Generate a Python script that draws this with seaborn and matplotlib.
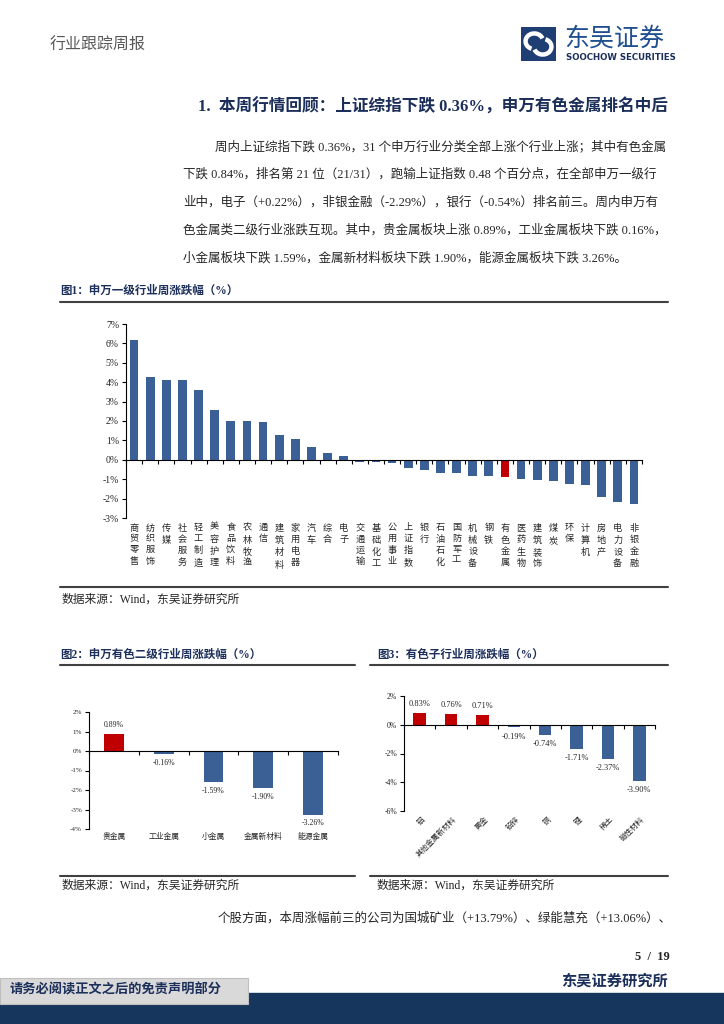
import numpy as np
import pandas as pd
import seaborn as sns
import matplotlib
matplotlib.use("Agg")
import matplotlib.pyplot as plt
import matplotlib.transforms as mtrans
from matplotlib.patches import Rectangle, Arc

sns.set_theme(style="white")
plt.rcParams['font.family'] = ['Liberation Serif', 'Noto Sans CJK SC']
plt.rcParams['axes.unicode_minus'] = False

NAVY = '#1c2f5a'
BLUE = '#3a6096'
RED = '#c00000'

# fig 1: shenwan level-1 industries weekly change (%)
ind_names = ['商贸零售', '纺织服饰', '传媒', '社会服务', '轻工制造', '美容护理', '食品饮料',
             '农林牧渔', '通信', '建筑材料', '家用电器', '汽车', '综合', '电子', '交通运输',
             '基础化工', '公用事业', '上证指数', '银行', '石油石化', '国防军工', '机械设备',
             '钢铁', '有色金属', '医药生物', '建筑装饰', '煤炭', '环保', '计算机', '房地产',
             '电力设备', '非银金融']
ind_chg = [6.17, 4.25, 4.12, 4.12, 3.62, 2.59, 2.02, 2.02, 1.94, 1.27, 1.08, 0.67, 0.34,
           0.22, -0.09, -0.12, -0.19, -0.43, -0.54, -0.70, -0.70, -0.84, -0.84, -0.89,
           -0.99, -1.03, -1.10, -1.25, -1.30, -1.92, -2.20, -2.29]
ind_hl = ['有色金属']

# fig 2: non-ferrous level-2
sub_names = ['贵金属', '工业金属', '小金属', '金属新材料', '能源金属']
sub_chg = [0.89, -0.16, -1.59, -1.90, -3.26]

# fig 3: non-ferrous sub sectors
sec_names = ['铝', '其他金属新材料', '黄金', '铅锌', '铜', '锂', '稀土', '磁性材料']
sec_chg = [0.83, 0.76, 0.71, -0.19, -0.74, -1.71, -2.37, -3.90]

W, H = 724, 1024
fig = plt.figure(figsize=(W / 100, H / 100), dpi=100)


def rect(x0, y0, x1, y1):
    return [x0 / W, 1 - y1 / H, (x1 - x0) / W, (y1 - y0) / H]


def txt(x, y, s, **kw):
    kw.setdefault('va', 'center')
    fig.text(x / W, 1 - y / H, s, **kw)


def hline(x0, x1, y, lw=1.5, color='#404040'):
    fig.add_artist(plt.Line2D([x0 / W, x1 / W], [1 - y / H, 1 - y / H], color=color, lw=lw))


def bar_chart(ax, names, vals, colors, width, ylim, yticks, tick_fs):
    df = pd.DataFrame({'name': names, 'chg': vals})
    pal = dict(zip(names, colors))
    sns.barplot(data=df, x='name', y='chg', hue='name', palette=pal, width=width,
                saturation=1, legend=False, ax=ax, edgecolor='none')
    n = len(names)
    ax.set_xlim(-0.5, n - 0.5)
    ax.set_ylim(*ylim)
    ax.set_xlabel('')
    ax.set_ylabel('')
    for s in ['top', 'right']:
        ax.spines[s].set_visible(False)
    for s in ['left', 'bottom']:
        ax.spines[s].set_color('black')
        ax.spines[s].set_linewidth(0.8)
    ax.spines['bottom'].set_position(('data', 0))
    ax.set_xticks([])
    ax.set_xticks(np.arange(n + 1) - 0.5, minor=True)
    ax.tick_params(axis='x', which='minor', length=3, width=0.8, color='black',
                   direction='out', bottom=True)
    ax.set_yticks(yticks)
    ax.set_yticklabels([f'{v:.0f}%' for v in yticks], fontsize=tick_fs)
    ax.tick_params(axis='y', length=3, width=0.8, color='black', direction='out',
                   left=True, pad=2)
    ax.patch.set_alpha(0)


# header
txt(50, 46, '行业跟踪周报', fontsize=11.5, color='#595959')
lax = fig.add_axes(rect(521, 27, 556, 61))
lax.set_xlim(0, 1)
lax.set_ylim(0, 1)
lax.axis('off')
lax.add_patch(Rectangle((0, 0), 1, 1, color='#1f3f74'))
lax.add_patch(Arc((0.38, 0.58), 0.5, 0.46, theta1=20, theta2=250, color='white', lw=3.2))
lax.add_patch(Arc((0.62, 0.42), 0.5, 0.46, theta1=200, theta2=70, color='white', lw=3.2))
txt(564, 39, '东吴证券', fontsize=18, color='#1f4f8f', ha='left')
txt(566, 58, 'SOOCHOW SECURITIES', fontsize=6.2, color='#1c2f5a', ha='left',
    family='DejaVu Sans', fontweight='bold')

# heading
txt(668, 107, '1.  本周行情回顾：上证综指下跌 0.36%，申万有色金属排名中后',
    fontsize=12, fontweight='bold', color=NAVY, ha='right')

para = ['周内上证综指下跌 0.36%，31 个申万行业分类全部上涨个行业上涨；其中有色金属',
        '下跌 0.84%，排名第 21 位（21/31），跑输上证指数 0.48 个百分点，在全部申万一级行',
        '业中，电子（+0.22%），非银金融（-2.29%），银行（-0.54%）排名前三。周内申万有',
        '色金属类二级行业涨跌互现。其中，贵金属板块上涨 0.89%，工业金属板块下跌 0.16%，',
        '小金属板块下跌 1.59%，金属新材料板块下跌 1.90%，能源金属板块下跌 3.26%。']
for i, line in enumerate(para):
    txt(215 if i == 0 else 183, 147 + i * 27.8, line, fontsize=9, ha='left')

# fig 1
txt(60, 291, '图1：申万一级行业周涨跌幅（%）', fontsize=8.3, fontweight='bold', color=NAVY,
    ha='left')
hline(60, 668, 302)
ax1 = fig.add_axes(rect(126, 324, 642, 518))
cols1 = [RED if n in ind_hl else BLUE for n in ind_names]
bar_chart(ax1, ind_names, ind_chg, cols1, 0.55, (-3, 7), list(range(-3, 8)), 7)
tr1 = mtrans.blended_transform_factory(ax1.transData, ax1.transAxes)
for i, n in enumerate(ind_names):
    ax1.text(i, -0.03, '\n'.join(n), transform=tr1, ha='center', va='top', fontsize=6.6,
             linespacing=1.45)
hline(60, 668, 587)
txt(62, 600, '数据来源：Wind，东吴证券研究所', fontsize=8.5, ha='left')

# fig 2
txt(60, 655, '图2：申万有色二级行业周涨跌幅（%）', fontsize=8.3, fontweight='bold',
    color=NAVY, ha='left')
hline(60, 355, 665)
ax2 = fig.add_axes(rect(89, 712, 338, 829))
cols2 = [RED if v > 0 else BLUE for v in sub_chg]
bar_chart(ax2, sub_names, sub_chg, cols2, 0.4, (-4, 2), list(range(-4, 3)), 5)
tr2 = mtrans.blended_transform_factory(ax2.transData, ax2.transAxes)
for i, (n, v) in enumerate(zip(sub_names, sub_chg)):
    ax2.text(i, -0.03, n, transform=tr2, ha='center', va='top', fontsize=5.6)
    ax2.text(i, v + (0.25 if v > 0 else -0.25), f'{v:.2f}%', ha='center',
             va='bottom' if v > 0 else 'top', fontsize=5.6)
hline(60, 355, 876)
txt(62, 886, '数据来源：Wind，东吴证券研究所', fontsize=8.5, ha='left')

# fig 3
txt(377, 655, '图3：有色子行业周涨跌幅（%）', fontsize=8.3, fontweight='bold', color=NAVY,
    ha='left')
hline(370, 668, 665)
ax3 = fig.add_axes(rect(404, 696, 655, 811))
cols3 = [RED if v > 0 else BLUE for v in sec_chg]
bar_chart(ax3, sec_names, sec_chg, cols3, 0.4, (-6, 2), list(range(-6, 3, 2)), 5.5)
tr3 = mtrans.blended_transform_factory(ax3.transData, ax3.transAxes)
for i, (n, v) in enumerate(zip(sec_names, sec_chg)):
    ax3.text(i + 0.05, -0.04, n, transform=tr3, ha='right', va='top', fontsize=5.5,
             rotation=45, rotation_mode='anchor')
    ax3.text(i, v + (0.35 if v > 0 else -0.35), f'{v:.2f}%', ha='center',
             va='bottom' if v > 0 else 'top', fontsize=6)
hline(370, 668, 876)
txt(377, 886, '数据来源：Wind，东吴证券研究所', fontsize=8.5, ha='left')

# bottom text
txt(218, 918, '个股方面，本周涨幅前三的公司为国城矿业（+13.79%）、绿能慧充（+13.06%）、',
    fontsize=9, ha='left')
txt(670, 957, '5  /  19', fontsize=9, fontweight='bold', ha='right')
txt(668, 981, '东吴证券研究所', fontsize=11, fontweight='bold', color=NAVY, ha='right')

fig.add_artist(Rectangle((0, 0), 1, 31 / H, transform=fig.transFigure, color='#17365d'))
fig.add_artist(Rectangle((0, 1 - 1004 / H), 248 / W, 26 / H, transform=fig.transFigure,
                         facecolor='#d9d9d9', edgecolor='#bfbfbf', lw=0.8))
txt(10, 990, '请务必阅读正文之后的免责声明部分', fontsize=9.5, fontweight='bold',
    color=NAVY, ha='left')

fig.savefig('out.png', dpi=100)
